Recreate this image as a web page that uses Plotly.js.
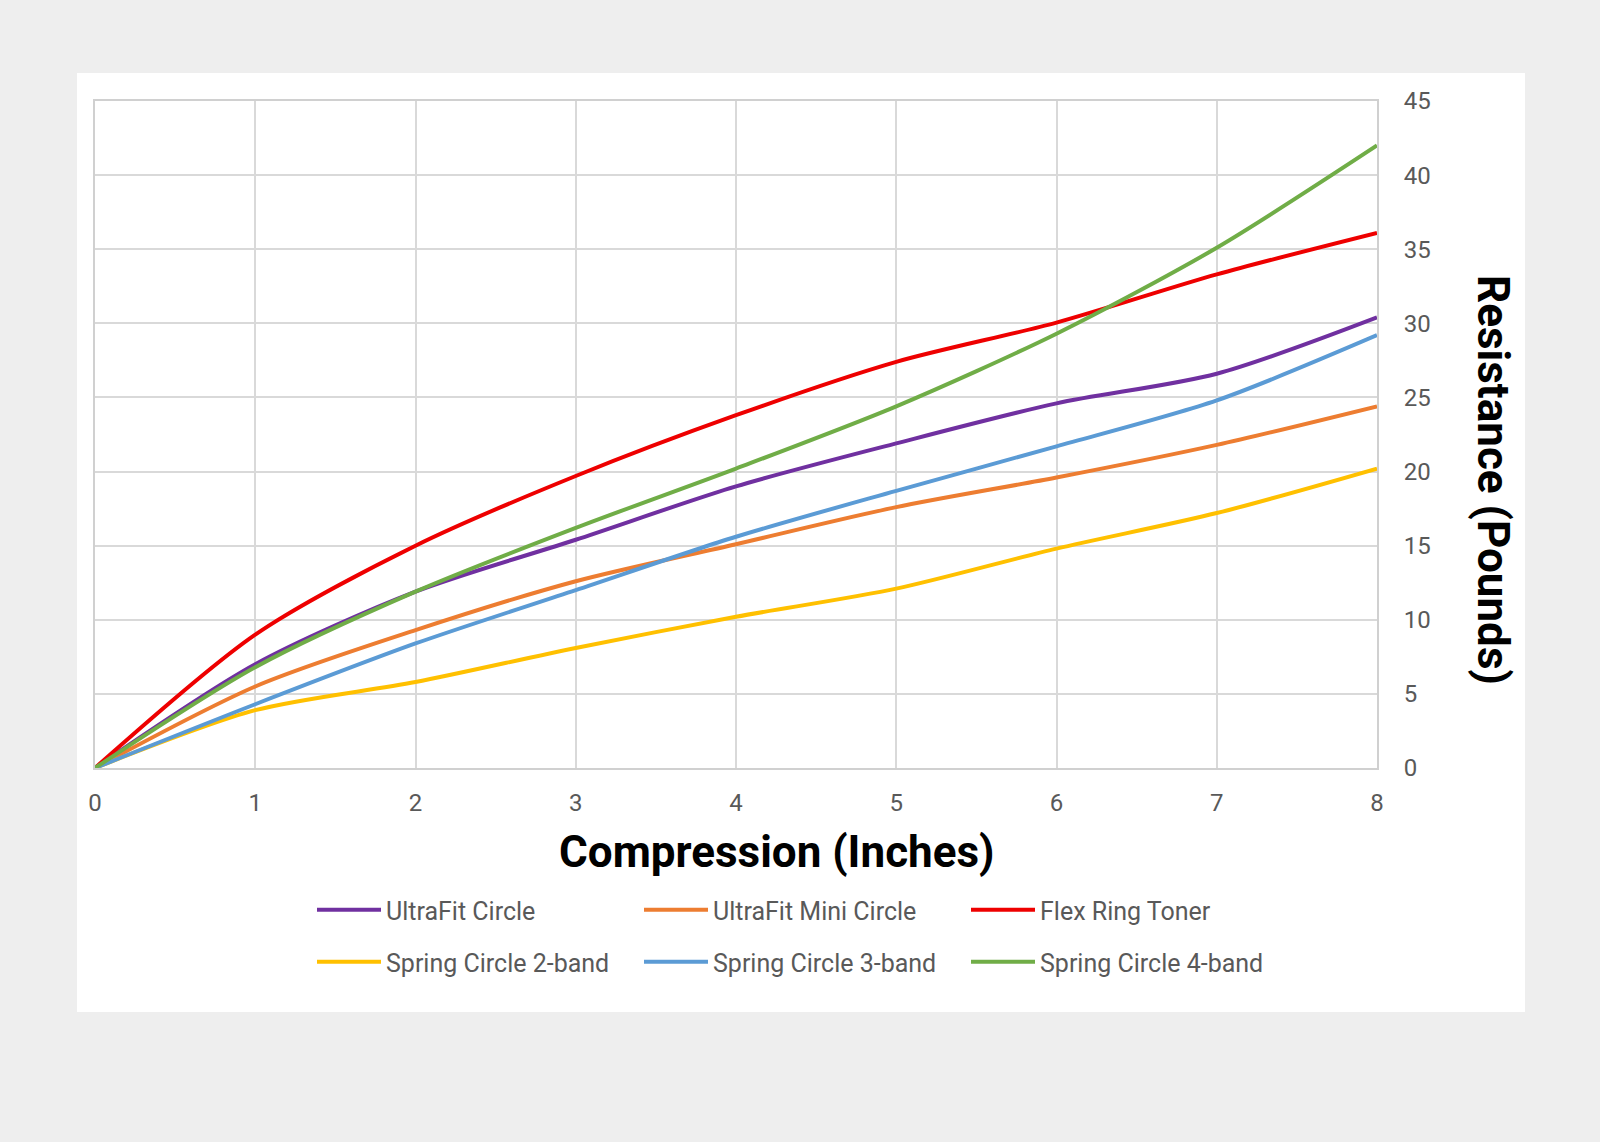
<!DOCTYPE html>
<html>
<head>
<meta charset="utf-8">
<script src="https://cdn.plot.ly/plotly-3.0.1.min.js"></script>
<style>
  html, body { margin: 0; padding: 0; background: #eeeeee; }
  #chart { width: 1600px; height: 1142px; }
</style>
</head>
<body>
<div id="chart"></div>
<script>
// Compression (inches)
const compression = [0, 1, 2, 3, 4, 5, 6, 7, 8];

// Resistance (pounds) per product
const ultraFitCircle     = [0, 7.0, 11.9, 15.4, 19.0, 21.9, 24.6, 26.6, 30.4];
const ultraFitMiniCircle = [0, 5.5, 9.3, 12.6, 15.1, 17.6, 19.6, 21.8, 24.4];
const flexRingToner      = [0, 9.0, 15.0, 19.7, 23.8, 27.4, 30.05, 33.3, 36.1];
const springCircle2Band  = [0, 3.9, 5.8, 8.1, 10.2, 12.1, 14.8, 17.2, 20.2];
const springCircle3Band  = [0, 4.3, 8.4, 12.0, 15.6, 18.7, 21.7, 24.8, 29.2];
const springCircle4Band  = [0, 6.8, 11.9, 16.2, 20.2, 24.4, 29.3, 35.1, 42.0];

const seriesNames = ["UltraFit Circle", "UltraFit Mini Circle", "Flex Ring Toner",
                     "Spring Circle 2-band", "Spring Circle 3-band", "Spring Circle 4-band"];
const seriesValues = [ultraFitCircle, ultraFitMiniCircle, flexRingToner,
                      springCircle2Band, springCircle3Band, springCircle4Band];
const seriesColors = ["#7030A0", "#ED7D31", "#EE0000", "#FFC000", "#5B9BD5", "#70AD47"];

const xTickVals = [0, 1, 2, 3, 4, 5, 6, 7, 8];
const yTickVals = [0, 5, 10, 15, 20, 25, 30, 35, 40, 45];

const traces = seriesNames.map((name, i) => ({
  type: "scatter",
  mode: "lines",
  name: name,
  x: compression,
  y: seriesValues[i],
  line: { color: seriesColors[i], width: 4, shape: "spline", smoothing: 0.8 },
  legend: i < 3 ? "legend" : "legend2",
  hoverinfo: "skip"
}));

// plot area: left 95, right 1377, top 101, bottom 768
const L = 95, R = 1377, T = 101, B = 768;
const PW = R - L, PH = B - T;
const px = v => (v - L) / PW;
const py = v => (B - v) / PH;

const tickFont = { family: "Roboto, 'Open Sans', sans-serif", size: 24, color: "#595959" };
const legendFont = { family: "Roboto, 'Open Sans', sans-serif", size: 25, color: "#595959" };
const titleFont = { family: "Roboto, 'Open Sans', sans-serif", size: 44, color: "#000000", weight: 700 };

const legendBase = {
  orientation: "h",
  xanchor: "left",
  yanchor: "middle",
  bgcolor: "rgba(0,0,0,0)",
  font: legendFont,
  entrywidth: 248,
  entrywidthmode: "pixels",
  itemwidth: 64,
  tracegroupgap: 0
};

const layout = {
  width: 1600,
  height: 1142,
  paper_bgcolor: "#eeeeee",
  plot_bgcolor: "#ffffff",
  margin: { l: L, r: 1600 - R, t: T, b: 1142 - B, pad: 0 },
  showlegend: true,
  xaxis: {
    range: [0, 8],
    tickvals: xTickVals,
    ticktext: xTickVals.map(String),
    showgrid: true,
    gridcolor: "#d9d9d9",
    gridwidth: 2,
    zeroline: false,
    showline: true,
    mirror: true,
    linecolor: "#d0d0d0",
    linewidth: 2,
    ticks: "",
    ticklabelstandoff: 12,
    tickfont: tickFont,
    fixedrange: true
  },
  yaxis: {
    range: [0, 45],
    side: "right",
    tickvals: yTickVals,
    ticktext: yTickVals.map(String),
    showgrid: true,
    gridcolor: "#d9d9d9",
    gridwidth: 2,
    zeroline: false,
    showline: true,
    mirror: true,
    linecolor: "#d0d0d0",
    linewidth: 2,
    ticks: "",
    ticklabelstandoff: 20,
    tickfont: tickFont,
    fixedrange: true
  },
  legend: Object.assign({}, legendBase, { x: px(312), y: py(910) }),
  legend2: Object.assign({}, legendBase, { x: px(312), y: py(962) }),
  shapes: [
    {
      type: "rect", xref: "paper", yref: "paper", layer: "below",
      x0: px(77), x1: px(1525), y0: py(1012), y1: py(73),
      fillcolor: "#ffffff", line: { width: 0 }
    }
  ],
  annotations: [
    {
      text: "Compression (Inches)",
      xref: "paper", yref: "paper",
      x: px(777), y: py(852),
      xanchor: "center", yanchor: "middle",
      showarrow: false,
      font: titleFont
    },
    {
      text: "Resistance (Pounds)",
      xref: "paper", yref: "paper",
      x: px(1493), y: py(480),
      xanchor: "center", yanchor: "middle",
      textangle: 90,
      showarrow: false,
      font: titleFont
    }
  ]
};

Plotly.newPlot("chart", traces, layout, { staticPlot: true, displayModeBar: false });
</script>
</body>
</html>
